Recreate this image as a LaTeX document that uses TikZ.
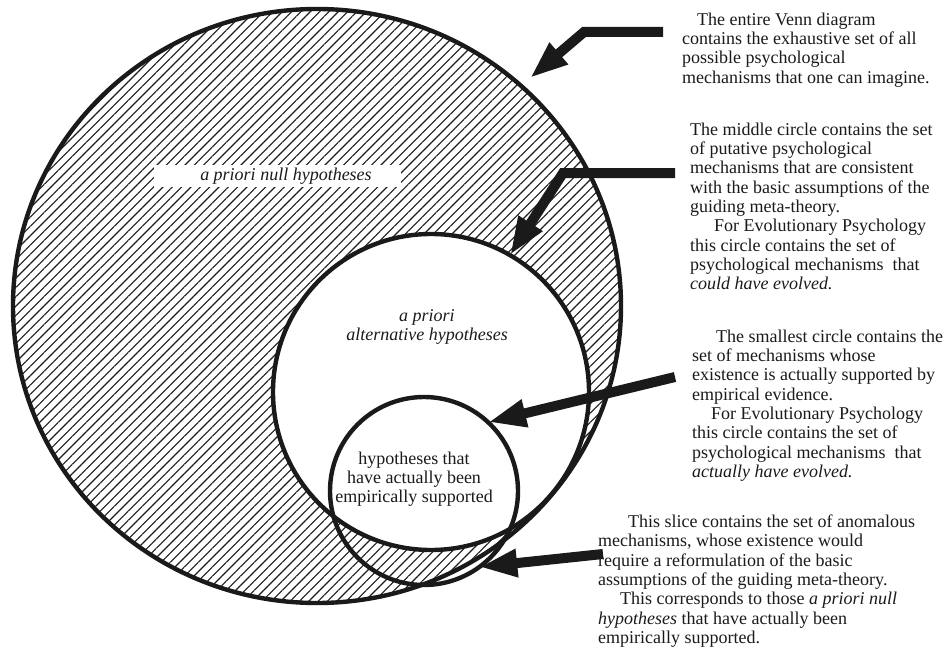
\documentclass[tikz,border=0pt]{standalone}
\usepackage{fontspec}
\setmainfont{Liberation Serif}
\usepackage{tikz}
\usetikzlibrary{positioning,arrows.meta,patterns.meta,shapes.geometric,calc}
\definecolor{ink}{HTML}{1A1A1A}
\tikzset{
  % --- sets
  ring/.style  = {draw=ink, line width=4.4pt, inner sep=0pt, outer sep=0pt},
  hatch/.style = {pattern={Lines[angle=45, distance=6.6pt, line width=1.1pt]},
                  pattern color=ink, even odd rule},
  % --- text
  note/.style  = {font=\fontsize{18}{19.3}\selectfont, align=left, inner sep=0pt,
                  anchor=north west, text=ink},
  lbl/.style   = {font=\fontsize{18}{19.3}\selectfont, align=center, inner sep=0pt, text=ink},
  ilbl/.style  = {lbl, font=\fontsize{18}{19.3}\selectfont\itshape},
  % --- edges
  fat/.style   = {draw=ink, line width=10pt, -{Triangle[length=38pt, width=26pt]}},
}

\begin{document}
\begin{tikzpicture}[x=1pt,y=-1pt]
  \useasboundingbox (0,0) rectangle (947,658);

  % hatched part: everything outside the middle circle
  \fill[hatch] (317,306) ellipse [x radius=304, y radius=297] (431,392) circle [radius=158];

  \node[ring, ellipse, minimum width=608pt, minimum height=594pt] (whole) at (317,306) {};
  \node[ring, circle, minimum size=316pt] (mid)   at (431,392) {};
  \node[ring, circle, minimum size=188pt] (small) at (424,491) {};

  \node[ilbl, fill=white, minimum width=247pt, minimum height=22pt] (nulllbl)
        at (277,176) {\hspace*{18pt}a priori null hypotheses};
  \node[ilbl] (altlbl) at (427,327) {a priori\\alternative hypotheses};
  \node[lbl]  (emplbl) at (414,479) {hypotheses that\\have actually been\\empirically supported};

  % --- arrows from the notes
  \coordinate (wholeTail) at (663,32);
  \coordinate (wholeBend) at (584,32);
  \coordinate (wholeTip)  at (530,78);
  \coordinate (midTail)   at (675,173);
  \coordinate (midBend)   at (563,173);
  \coordinate (smallTail) at (675,377);
  \coordinate (sliceTail) at (603,554);

  \draw[fat] (wholeTail) -- (wholeBend) -- (wholeTip);
  \draw[fat] (midTail) -- (midBend) -- (mid.60);
  \draw[fat] (smallTail) -- (small.47);
  \draw[fat] (sliceTail) -- (small.-54);

  \node[note] (noteWhole) at (682,12.7) {\hspace*{15pt}The entire Venn diagram\\
    contains the exhaustive set of all\\possible psychological\\
    mechanisms that one can imagine.};
  \node[note] (noteMid) at (690,122.7) {The middle circle contains the set\\
    of putative psychological\\mechanisms that are consistent\\
    with the basic assumptions of the\\guiding meta-theory.\\
    \hspace*{24pt}For Evolutionary Psychology\\this circle contains the set of\\
    psychological mechanisms\ \ that\\\textit{could have evolved.}};
  \node[note] (noteSmall) at (692,329.7) {\hspace*{24pt}The smallest circle contains the\\
    set of mechanisms whose\\existence is actually supported by\\empirical evidence.\\
    \hspace*{19pt}For Evolutionary Psychology\\this circle contains the set of\\
    psychological mechanisms\ \ that\\\textit{actually have evolved.}};
  \node[note] (noteSlice) at (598,514.7) {\hspace*{30pt}This slice contains the set of anomalous\\
    mechanisms, whose existence would\\require a reformulation of the basic\\
    assumptions of the guiding meta-theory.\\
    \hspace*{22pt}This corresponds to those \textit{a priori null}\\
    \textit{hypotheses} that have actually been\\empirically supported.};
\end{tikzpicture}
\end{document}
